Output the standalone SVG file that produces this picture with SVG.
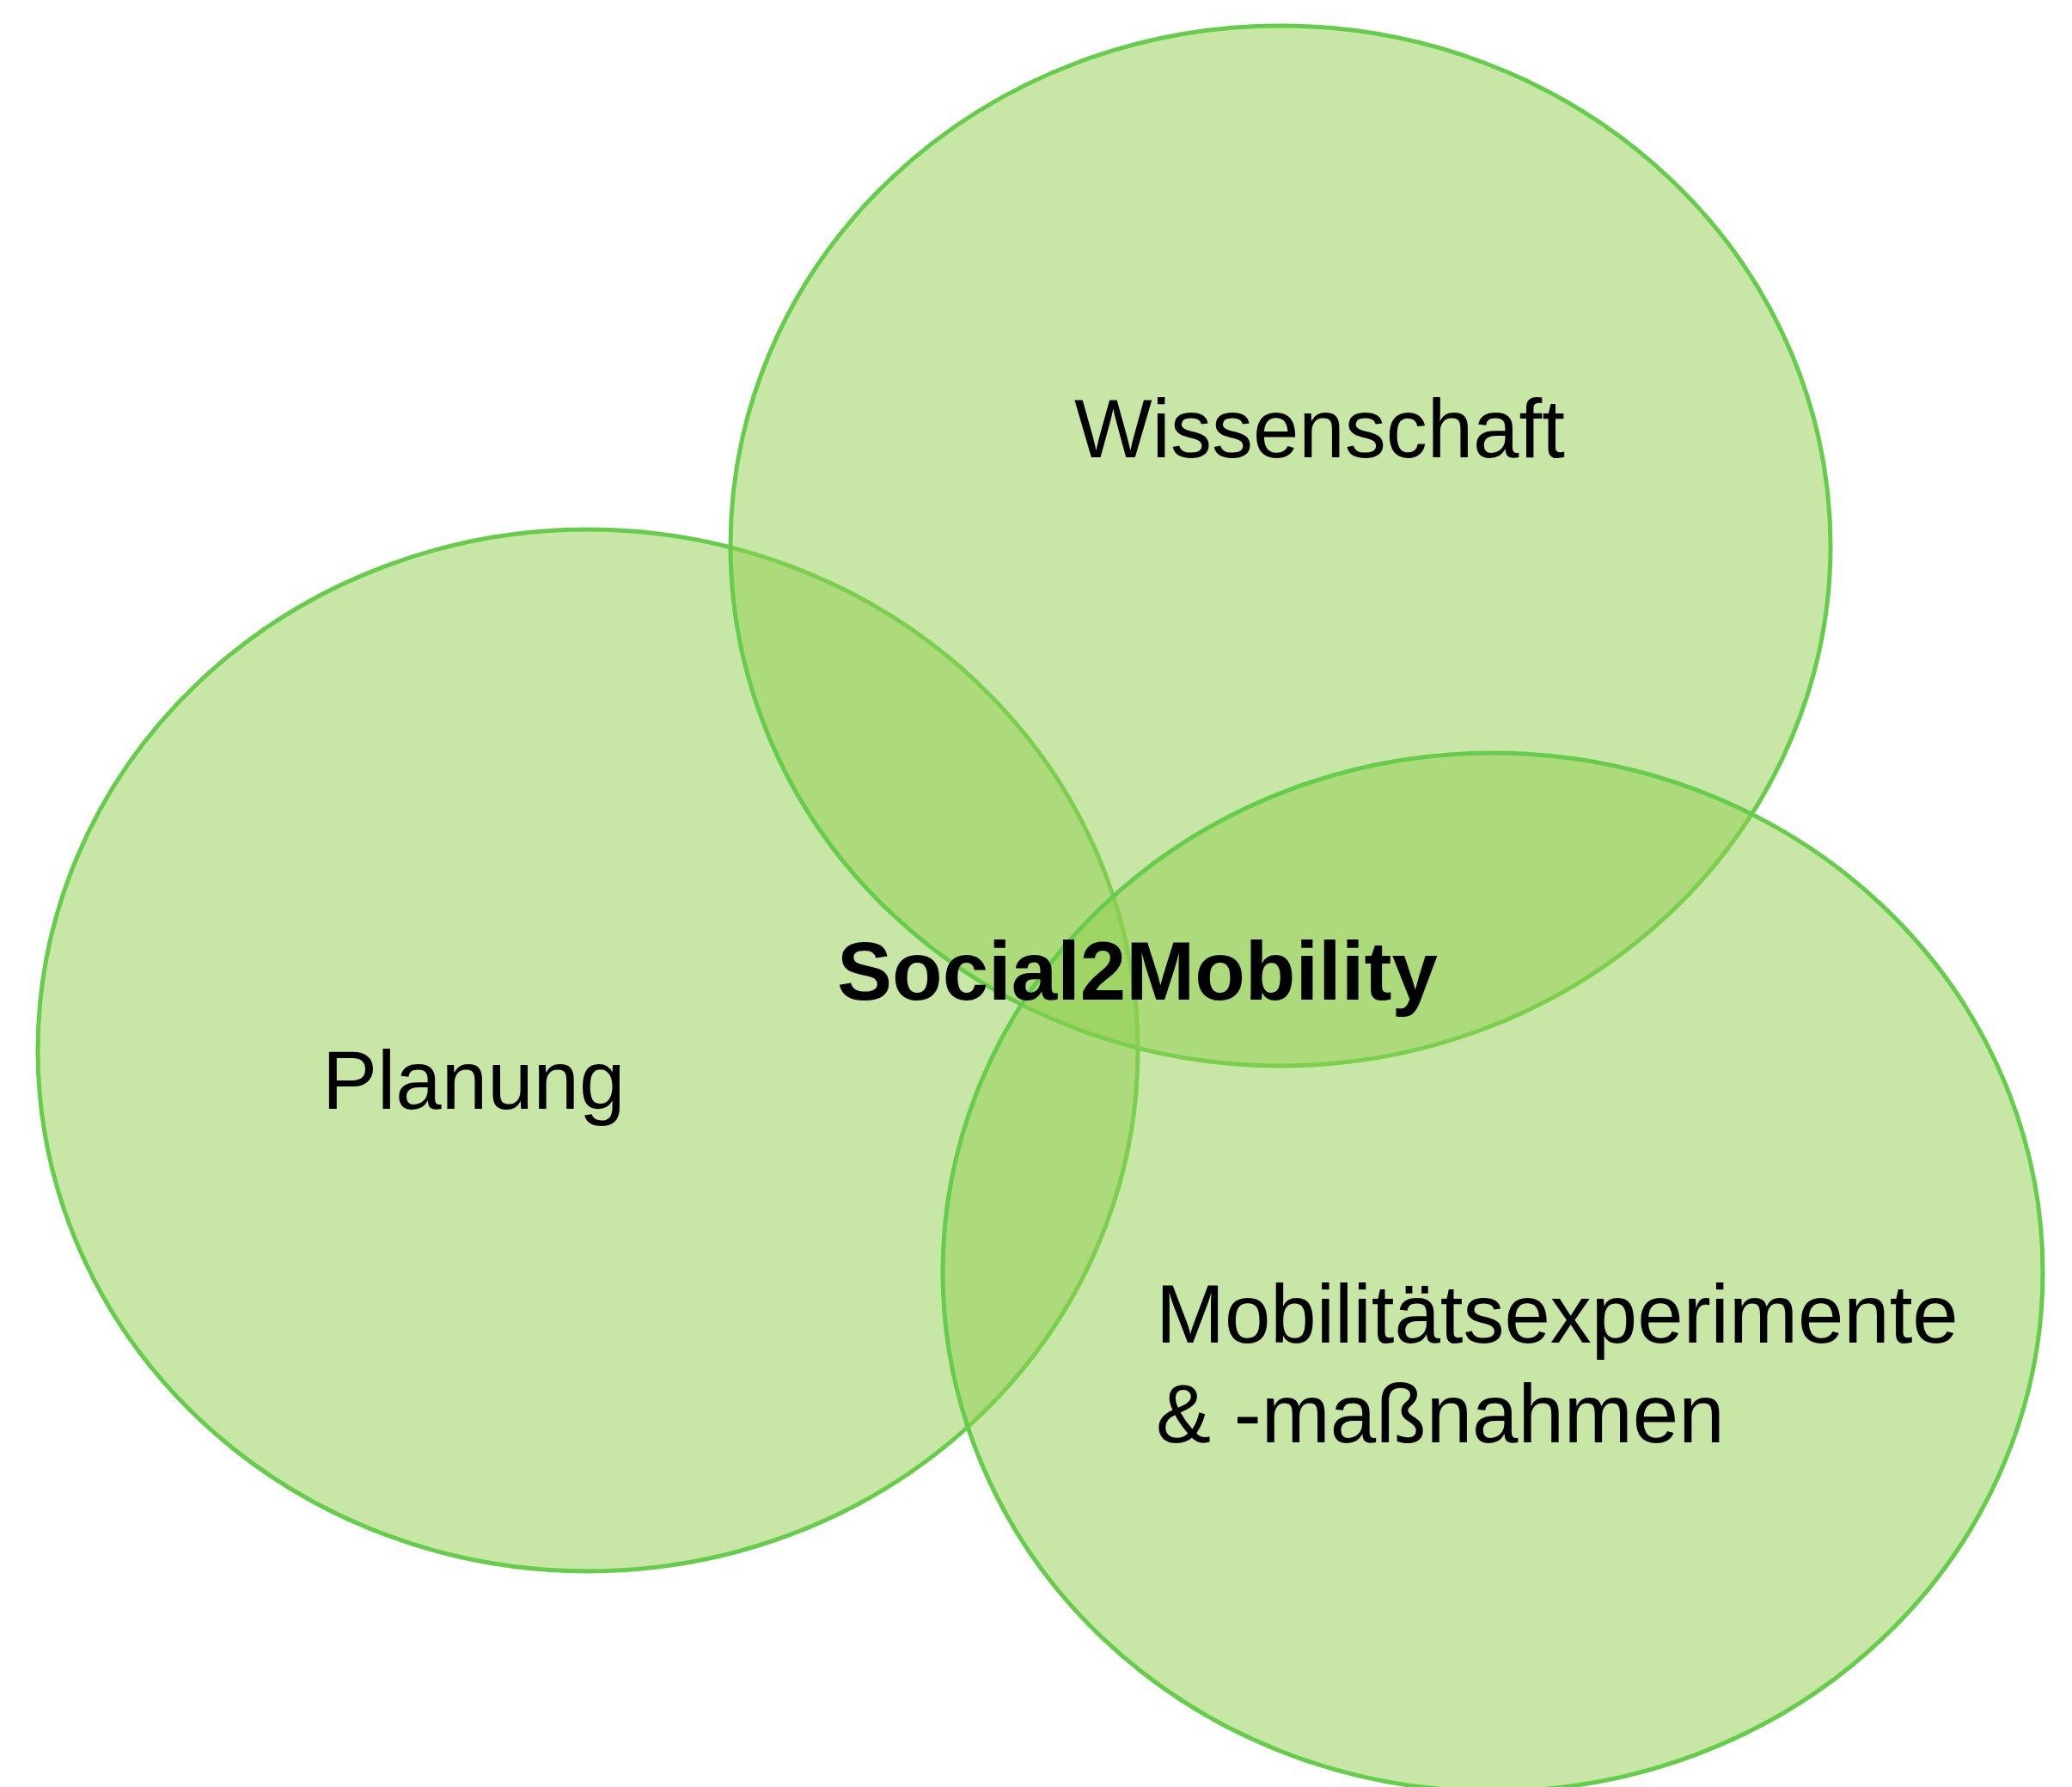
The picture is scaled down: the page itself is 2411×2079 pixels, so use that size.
<svg xmlns="http://www.w3.org/2000/svg" width="2411" height="2079" viewBox="0 0 2411 2079">
  <style>
    .set { fill: #92d050; fill-opacity: 0.5; stroke: #66cc4c; stroke-width: 5; }
    .label { font-family: "Liberation Sans", Arial, sans-serif; font-size: 96px; fill: #000000; }
    .title { font-family: "Liberation Sans", Arial, sans-serif; font-size: 96px; font-weight: bold; fill: #000000; }
  </style>
  <rect width="2411" height="2079" fill="#ffffff"/>
  <g id="planung">
    <ellipse class="set" cx="684" cy="1222" rx="640" ry="606"/>
  </g>
  <g id="wissenschaft">
    <ellipse class="set" cx="1490" cy="635" rx="640" ry="605"/>
  </g>
  <g id="mobilitaet">
    <ellipse class="set" cx="1737" cy="1480" rx="640" ry="604"/>
  </g>
  <g id="labels">
    <text class="label" x="375" y="1290">Planung</text>
    <text class="label" x="1250" y="532">Wissenschaft</text>
    <text class="label" x="1345" y="1562">Mobilitätsexperimente</text>
    <text class="label" x="1345" y="1678">&amp; -maßnahmen</text>
  </g>
  <g id="center">
    <text class="title" x="974" y="1163">Social2Mobility</text>
  </g>
</svg>
